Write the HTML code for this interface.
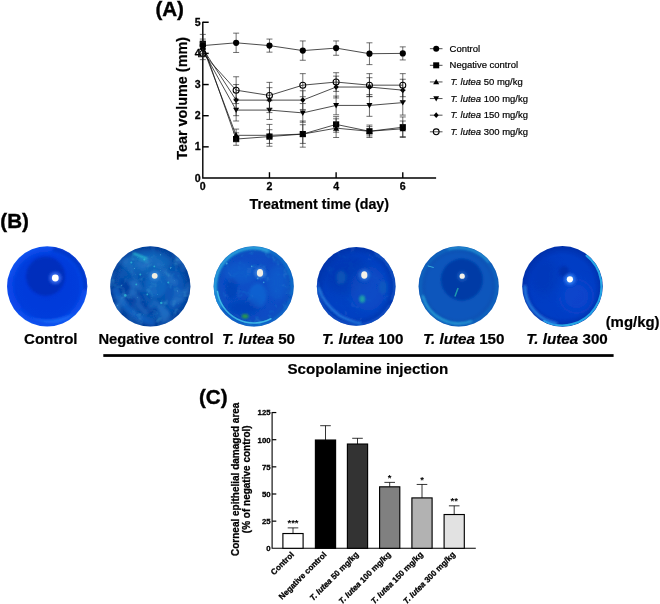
<!DOCTYPE html>
<html lang="en"><head><meta charset="utf-8"><title>Figure</title>
<style>html,body{margin:0;padding:0;background:#fff}body{width:660px;height:604px;overflow:hidden}svg{display:block}svg text{font-family:"Liberation Sans", sans-serif;fill:#000}.st{stroke:#000;stroke-width:0.2px}.sb{stroke:#000;stroke-width:0.28px}.sl{stroke:#000;stroke-width:0.4px}</style>
</head><body>
<svg width="660" height="604" viewBox="0 0 660 604">
<rect width="660" height="604" fill="#fff"/>
<g id="panelA">
<text x="155.4" y="15.7" font-size="20.6" font-weight="bold" class="sl">(A)</text>
<path d="M202.8 21.65 V178.0 H436.11" fill="none" stroke="#000" stroke-width="1.4"/>
<path d="M202.8 146.85 h5.9" stroke="#000" stroke-width="1.45"/>
<path d="M202.8 115.70 h5.9" stroke="#000" stroke-width="1.45"/>
<path d="M202.8 84.55 h5.9" stroke="#000" stroke-width="1.45"/>
<path d="M202.8 53.40 h5.9" stroke="#000" stroke-width="1.45"/>
<path d="M202.8 22.25 h5.9" stroke="#000" stroke-width="1.45"/>
<path d="M269.46 178.0 v-5.8" stroke="#000" stroke-width="1.4"/>
<path d="M336.12 178.0 v-5.8" stroke="#000" stroke-width="1.4"/>
<path d="M402.78 178.0 v-5.8" stroke="#000" stroke-width="1.4"/>
<text x="200.6" y="181.60" font-size="10.6" font-weight="bold" text-anchor="end" class="sb">0</text>
<text x="200.6" y="150.45" font-size="10.6" font-weight="bold" text-anchor="end" class="sb">1</text>
<text x="200.6" y="119.30" font-size="10.6" font-weight="bold" text-anchor="end" class="sb">2</text>
<text x="200.6" y="88.15" font-size="10.6" font-weight="bold" text-anchor="end" class="sb">3</text>
<text x="200.6" y="57.00" font-size="10.6" font-weight="bold" text-anchor="end" class="sb">4</text>
<text x="200.6" y="25.85" font-size="10.6" font-weight="bold" text-anchor="end" class="sb">5</text>
<text x="202.80" y="189.7" font-size="10.6" font-weight="bold" text-anchor="middle" class="sb">0</text>
<text x="269.46" y="189.7" font-size="10.6" font-weight="bold" text-anchor="middle" class="sb">2</text>
<text x="336.12" y="189.7" font-size="10.6" font-weight="bold" text-anchor="middle" class="sb">4</text>
<text x="402.78" y="189.7" font-size="10.6" font-weight="bold" text-anchor="middle" class="sb">6</text>
<text transform="translate(187.0,98.4) rotate(-90)" font-size="14.4" font-weight="bold" text-anchor="middle" class="st">Tear volume (mm)</text>
<text x="319.3" y="209.2" font-size="14.25" font-weight="bold" text-anchor="middle" class="st">Treatment time (day)</text>
<path d="M202.80 39.07 V49.04 M199.80 39.07 h6 M199.80 49.04 h6 M236.13 132.83 V145.29 M233.13 132.83 h6 M233.13 145.29 h6 M269.46 129.72 V143.42 M266.46 129.72 h6 M266.46 143.42 h6 M302.79 121.00 V147.16 M299.79 121.00 h6 M299.79 147.16 h6 M336.12 116.63 V132.21 M333.12 116.63 h6 M333.12 132.21 h6 M369.45 125.05 V137.50 M366.45 125.05 h6 M366.45 137.50 h6 M402.78 116.95 V137.51 M399.78 116.95 h6 M399.78 137.51 h6" stroke="#222" stroke-width="0.65" fill="none"/>
<polyline points="202.80,44.06 236.13,139.06 269.46,136.57 302.79,134.08 336.12,124.42 369.45,131.28 402.78,127.23" fill="none" stroke="#111" stroke-width="0.75"/>
<rect x="199.70" y="40.96" width="6.20" height="6.20" fill="#000"/>
<rect x="233.03" y="135.96" width="6.20" height="6.20" fill="#000"/>
<rect x="266.36" y="133.47" width="6.20" height="6.20" fill="#000"/>
<rect x="299.69" y="130.98" width="6.20" height="6.20" fill="#000"/>
<rect x="333.02" y="121.32" width="6.20" height="6.20" fill="#000"/>
<rect x="366.35" y="128.18" width="6.20" height="6.20" fill="#000"/>
<rect x="399.68" y="124.13" width="6.20" height="6.20" fill="#000"/>
<path d="M202.80 40.94 V53.40 M199.80 40.94 h6 M199.80 53.40 h6 M236.13 129.09 V141.55 M233.13 129.09 h6 M233.13 141.55 h6 M269.46 124.42 V146.23 M266.46 124.42 h6 M266.46 146.23 h6 M302.79 124.73 V143.42 M299.79 124.73 h6 M299.79 143.42 h6 M336.12 118.81 V137.50 M333.12 118.81 h6 M333.12 137.50 h6 M369.45 126.60 V135.95 M366.45 126.60 h6 M366.45 135.95 h6 M402.78 121.00 V136.57 M399.78 121.00 h6 M399.78 136.57 h6" stroke="#222" stroke-width="0.65" fill="none"/>
<polyline points="202.80,47.17 236.13,135.32 269.46,135.32 302.79,134.08 336.12,128.16 369.45,131.28 402.78,128.78" fill="none" stroke="#111" stroke-width="0.75"/>
<path d="M202.80 44.07 L205.90 49.65 L199.70 49.65 Z" fill="#000"/>
<path d="M236.13 132.22 L239.23 137.80 L233.03 137.80 Z" fill="#000"/>
<path d="M269.46 132.22 L272.56 137.80 L266.36 137.80 Z" fill="#000"/>
<path d="M302.79 130.98 L305.89 136.56 L299.69 136.56 Z" fill="#000"/>
<path d="M336.12 125.06 L339.22 130.64 L333.02 130.64 Z" fill="#000"/>
<path d="M369.45 128.18 L372.55 133.75 L366.35 133.75 Z" fill="#000"/>
<path d="M402.78 125.68 L405.88 131.26 L399.68 131.26 Z" fill="#000"/>
<path d="M202.80 44.06 V56.52 M199.80 44.06 h6 M199.80 56.52 h6 M236.13 99.19 V121.00 M233.13 99.19 h6 M233.13 121.00 h6 M269.46 100.75 V119.44 M266.46 100.75 h6 M266.46 119.44 h6 M302.79 103.55 V122.24 M299.79 103.55 h6 M299.79 122.24 h6 M336.12 96.08 V114.77 M333.12 96.08 h6 M333.12 114.77 h6 M369.45 94.52 V116.32 M366.45 94.52 h6 M366.45 116.32 h6 M402.78 90.16 V115.08 M399.78 90.16 h6 M399.78 115.08 h6" stroke="#222" stroke-width="0.65" fill="none"/>
<polyline points="202.80,50.29 236.13,110.09 269.46,110.09 302.79,112.90 336.12,105.42 369.45,105.42 402.78,102.62" fill="none" stroke="#111" stroke-width="0.75"/>
<path d="M202.80 53.29 L205.80 47.89 L199.80 47.89 Z" fill="#000"/>
<path d="M236.13 113.09 L239.13 107.69 L233.13 107.69 Z" fill="#000"/>
<path d="M269.46 113.09 L272.46 107.69 L266.46 107.69 Z" fill="#000"/>
<path d="M302.79 115.90 L305.79 110.50 L299.79 110.50 Z" fill="#000"/>
<path d="M336.12 108.42 L339.12 103.02 L333.12 103.02 Z" fill="#000"/>
<path d="M369.45 108.42 L372.45 103.02 L366.45 103.02 Z" fill="#000"/>
<path d="M402.78 105.62 L405.78 100.22 L399.78 100.22 Z" fill="#000"/>
<path d="M202.80 42.50 V54.96 M199.80 42.50 h6 M199.80 54.96 h6 M236.13 84.55 V115.70 M233.13 84.55 h6 M233.13 115.70 h6 M269.46 87.66 V112.59 M266.46 87.66 h6 M266.46 112.59 h6 M302.79 90.78 V109.47 M299.79 90.78 h6 M299.79 109.47 h6 M336.12 76.14 V97.94 M333.12 76.14 h6 M333.12 97.94 h6 M369.45 77.70 V96.39 M366.45 77.70 h6 M366.45 96.39 h6 M402.78 79.25 V101.06 M399.78 79.25 h6 M399.78 101.06 h6" stroke="#222" stroke-width="0.65" fill="none"/>
<polyline points="202.80,48.73 236.13,100.12 269.46,100.12 302.79,100.12 336.12,87.04 369.45,87.04 402.78,90.16" fill="none" stroke="#111" stroke-width="0.75"/>
<path d="M202.80 45.73 L205.35 48.73 L202.80 51.73 L200.25 48.73 Z" fill="#000"/>
<path d="M236.13 97.12 L238.68 100.12 L236.13 103.12 L233.58 100.12 Z" fill="#000"/>
<path d="M269.46 97.12 L272.01 100.12 L269.46 103.12 L266.91 100.12 Z" fill="#000"/>
<path d="M302.79 97.12 L305.34 100.12 L302.79 103.12 L300.24 100.12 Z" fill="#000"/>
<path d="M336.12 84.04 L338.67 87.04 L336.12 90.04 L333.57 87.04 Z" fill="#000"/>
<path d="M369.45 84.04 L372.00 87.04 L369.45 90.04 L366.90 87.04 Z" fill="#000"/>
<path d="M402.78 87.16 L405.33 90.16 L402.78 93.16 L400.23 90.16 Z" fill="#000"/>
<path d="M202.80 47.17 V59.63 M199.80 47.17 h6 M199.80 59.63 h6 M236.13 76.76 V103.55 M233.13 76.76 h6 M233.13 103.55 h6 M269.46 82.37 V108.54 M266.46 82.37 h6 M266.46 108.54 h6 M302.79 73.65 V96.70 M299.79 73.65 h6 M299.79 96.70 h6 M336.12 72.71 V91.40 M333.12 72.71 h6 M333.12 91.40 h6 M369.45 73.65 V96.70 M366.45 73.65 h6 M366.45 96.70 h6 M402.78 73.65 V96.70 M399.78 73.65 h6 M399.78 96.70 h6" stroke="#222" stroke-width="0.65" fill="none"/>
<polyline points="202.80,53.40 236.13,90.16 269.46,95.45 302.79,85.17 336.12,82.06 369.45,85.17 402.78,85.17" fill="none" stroke="#111" stroke-width="0.75"/>
<circle cx="202.80" cy="53.40" r="3.00" fill="none" stroke="#000" stroke-width="1.05"/>
<circle cx="236.13" cy="90.16" r="3.00" fill="none" stroke="#000" stroke-width="1.05"/>
<circle cx="269.46" cy="95.45" r="3.00" fill="none" stroke="#000" stroke-width="1.05"/>
<circle cx="302.79" cy="85.17" r="3.00" fill="none" stroke="#000" stroke-width="1.05"/>
<circle cx="336.12" cy="82.06" r="3.00" fill="none" stroke="#000" stroke-width="1.05"/>
<circle cx="369.45" cy="85.17" r="3.00" fill="none" stroke="#000" stroke-width="1.05"/>
<circle cx="402.78" cy="85.17" r="3.00" fill="none" stroke="#000" stroke-width="1.05"/>
<path d="M202.80 34.40 V56.83 M199.80 34.40 h6 M199.80 56.83 h6 M236.13 33.15 V52.47 M233.13 33.15 h6 M233.13 52.47 h6 M269.46 39.07 V52.15 M266.46 39.07 h6 M266.46 52.15 h6 M302.79 40.94 V60.25 M299.79 40.94 h6 M299.79 60.25 h6 M336.12 40.94 V55.27 M333.12 40.94 h6 M333.12 55.27 h6 M369.45 42.81 V64.61 M366.45 42.81 h6 M366.45 64.61 h6 M402.78 46.86 V59.94 M399.78 46.86 h6 M399.78 59.94 h6" stroke="#222" stroke-width="0.65" fill="none"/>
<polyline points="202.80,45.61 236.13,42.81 269.46,45.61 302.79,50.60 336.12,48.10 369.45,53.71 402.78,53.40" fill="none" stroke="#111" stroke-width="0.75"/>
<circle cx="202.80" cy="45.61" r="3.10" fill="#000"/>
<circle cx="236.13" cy="42.81" r="3.10" fill="#000"/>
<circle cx="269.46" cy="45.61" r="3.10" fill="#000"/>
<circle cx="302.79" cy="50.60" r="3.10" fill="#000"/>
<circle cx="336.12" cy="48.10" r="3.10" fill="#000"/>
<circle cx="369.45" cy="53.71" r="3.10" fill="#000"/>
<circle cx="402.78" cy="53.40" r="3.10" fill="#000"/>
<path d="M429.90 48.70 h12.6" stroke="#222" stroke-width="0.8"/>
<circle cx="436.20" cy="48.70" r="3.01" fill="#000"/>
<text x="449.6" y="51.75" font-size="9.47" class="st">Control</text>
<path d="M429.90 65.32 h12.6" stroke="#222" stroke-width="0.8"/>
<rect x="433.19" y="62.31" width="6.01" height="6.01" fill="#000"/>
<text x="449.6" y="68.37" font-size="9.47" class="st">Negative control</text>
<path d="M429.90 81.94 h12.6" stroke="#222" stroke-width="0.8"/>
<path d="M436.20 78.93 L439.21 84.35 L433.19 84.35 Z" fill="#000"/>
<text x="450.4" y="84.99" font-size="9.47" class="st"><tspan font-style="italic">T. lutea</tspan> 50 mg/kg</text>
<path d="M429.90 98.56 h12.6" stroke="#222" stroke-width="0.8"/>
<path d="M436.20 101.47 L439.11 96.23 L433.29 96.23 Z" fill="#000"/>
<text x="450.4" y="101.61" font-size="9.47" class="st"><tspan font-style="italic">T. lutea</tspan> 100 mg/kg</text>
<path d="M429.90 115.18 h12.6" stroke="#222" stroke-width="0.8"/>
<path d="M436.20 112.27 L438.67 115.18 L436.20 118.09 L433.73 115.18 Z" fill="#000"/>
<text x="450.4" y="118.23" font-size="9.47" class="st"><tspan font-style="italic">T. lutea</tspan> 150 mg/kg</text>
<path d="M429.90 131.80 h12.6" stroke="#222" stroke-width="0.8"/>
<circle cx="436.20" cy="131.80" r="2.91" fill="none" stroke="#000" stroke-width="1.05"/>
<text x="450.4" y="134.85" font-size="9.47" class="st"><tspan font-style="italic">T. lutea</tspan> 300 mg/kg</text>
</g>
<g id="panelB">
<text x="0.3" y="228.2" font-size="20.6" font-weight="bold" class="sl">(B)</text>
<defs>
<filter id="b0" x="-10%" y="-10%" width="120%" height="120%"><feGaussianBlur stdDeviation="0.75"/></filter>
<filter id="b1" x="-30%" y="-30%" width="160%" height="160%"><feGaussianBlur stdDeviation="0.8"/></filter>
<filter id="b2" x="-40%" y="-40%" width="180%" height="180%"><feGaussianBlur stdDeviation="1.7"/></filter>
<filter id="b3" x="-50%" y="-50%" width="200%" height="200%"><feGaussianBlur stdDeviation="3.2"/></filter>
<filter id="b4" x="-50%" y="-50%" width="200%" height="200%"><feGaussianBlur stdDeviation="5"/></filter>
<filter id="txL" x="0" y="0" width="100%" height="100%"><feTurbulence type="fractalNoise" baseFrequency="0.11" numOctaves="3" seed="7"/><feColorMatrix type="matrix" values="0 0 0 0 0.13  0 0 0 0 0.62  0 0 0 0 0.80  2.6 0 0 0 -1.5"/><feGaussianBlur stdDeviation="0.5"/></filter>
<filter id="txD" x="0" y="0" width="100%" height="100%"><feTurbulence type="fractalNoise" baseFrequency="0.07" numOctaves="2" seed="12"/><feColorMatrix type="matrix" values="0 0 0 0 0.02  0 0 0 0 0.17  0 0 0 0 0.56  0 4.0 0 0 -1.9"/><feGaussianBlur stdDeviation="0.8"/></filter>
<filter id="txS" x="0" y="0" width="100%" height="100%"><feTurbulence type="fractalNoise" baseFrequency="0.3" numOctaves="2" seed="3"/><feColorMatrix type="matrix" values="0 0 0 0 0.2  0 0 0 0 0.80  0 0 0 0 0.86  0 0 7 0 -5.3"/><feGaussianBlur stdDeviation="0.45"/></filter>
<radialGradient id="eg0" cx="50%" cy="50%" r="50%"><stop offset="0" stop-color="#0038d8"/><stop offset="0.78" stop-color="#003cdc"/><stop offset="1" stop-color="#1054f2"/></radialGradient>
<clipPath id="ec0"><circle cx="47.2" cy="286.4" r="40.1"/></clipPath>
<radialGradient id="eg1" cx="50%" cy="50%" r="50%"><stop offset="0" stop-color="#0856b2"/><stop offset="0.78" stop-color="#0854b0"/><stop offset="1" stop-color="#073e98"/></radialGradient>
<clipPath id="ec1"><circle cx="150.3" cy="286.4" r="40.1"/></clipPath>
<radialGradient id="eg2" cx="50%" cy="50%" r="50%"><stop offset="0" stop-color="#0a50c8"/><stop offset="0.78" stop-color="#084cc4"/><stop offset="1" stop-color="#0a54bc"/></radialGradient>
<clipPath id="ec2"><circle cx="253.7" cy="286.4" r="40.1"/></clipPath>
<radialGradient id="eg3" cx="50%" cy="50%" r="50%"><stop offset="0" stop-color="#0648c8"/><stop offset="0.78" stop-color="#0440c2"/><stop offset="1" stop-color="#0434aa"/></radialGradient>
<clipPath id="ec3"><circle cx="356.2" cy="286.4" r="39.4"/></clipPath>
<radialGradient id="eg4" cx="50%" cy="50%" r="50%"><stop offset="0" stop-color="#0956bc"/><stop offset="0.78" stop-color="#0956bc"/><stop offset="1" stop-color="#0a4cae"/></radialGradient>
<clipPath id="ec4"><circle cx="458.7" cy="286.4" r="40.1"/></clipPath>
<radialGradient id="eg5" cx="50%" cy="50%" r="50%"><stop offset="0" stop-color="#0440c8"/><stop offset="0.78" stop-color="#043cc4"/><stop offset="1" stop-color="#0430aa"/></radialGradient>
<clipPath id="ec5"><circle cx="562.5" cy="286.4" r="40.3"/></clipPath>
</defs>
<g filter="url(#b0)">
<circle cx="47.2" cy="286.4" r="40.1" fill="url(#eg0)"/>
<g clip-path="url(#ec0)">
<circle cx="45.6" cy="276.2" r="19.5" fill="#0026a8" opacity="0.58" filter="url(#b1)"/>
<path d="M53.2 245.39999999999998 A41 41 0 0 1 88.2 290.4 L83.2 289.4 A36 36 0 0 0 52.2 251.39999999999998Z" fill="#0028b0" opacity="0.55" filter="url(#b2)"/>
<path d="M7.200000000000003 276.4 A41 41 0 0 0 17.200000000000003 313.4 L21.200000000000003 306.4 A34 34 0 0 1 13.200000000000003 277.4Z" fill="#0c40e8" opacity="0.5" filter="url(#b2)"/>
<path d="M16.200000000000003 310.4 Q39.2 327.4 74.2 313.4 Q55.2 334.4 16.200000000000003 310.4Z" fill="#1c70f8" opacity="0.75" filter="url(#b1)"/>
</g>
<circle cx="55.3" cy="278.0" r="6.12" fill="#4a80ff" opacity="0.7" filter="url(#b2)"/>
<ellipse cx="55.3" cy="278.0" rx="3.4" ry="3.40" fill="#ffffff" filter="url(#b0)"/>
</g>
<g filter="url(#b0)">
<circle cx="150.3" cy="286.4" r="40.1" fill="url(#eg1)"/>
<g clip-path="url(#ec1)">
<ellipse cx="146.3" cy="262.4" rx="24" ry="11" fill="#1474c4" opacity="0.55" filter="url(#b3)"/>
<path d="M120.30000000000001 278.4 Q138.3 284.4 144.3 300.4 Q146.3 310.4 158.3 308.4 L152.3 314.4 Q130.3 312.4 118.30000000000001 290.4Z" fill="#06349a" opacity="0.6" filter="url(#b2)"/>
<ellipse cx="156.3" cy="284.4" rx="11" ry="13" fill="#1470c8" opacity="0.6" filter="url(#b2)"/>
<ellipse cx="174.3" cy="290.4" rx="10" ry="20" fill="#0c5cc0" opacity="0.5" filter="url(#b3)"/>
<path d="M114.30000000000001 288.4 Q126.30000000000001 316.4 154.3 323.4" stroke="#1268cc" stroke-width="6" fill="none" opacity="0.55" filter="url(#b2)"/>
<rect x="109.30000000000001" y="245.39999999999998" width="82" height="82" filter="url(#txD)" opacity="0.8"/>
<rect x="109.30000000000001" y="245.39999999999998" width="82" height="82" filter="url(#txL)" opacity="0.36"/>
<rect x="116.30000000000001" y="248.39999999999998" width="62" height="66" filter="url(#txS)" opacity="0.5"/>
<path d="M133.3 253.39999999999998 l14 5.5" stroke="#30c8d8" stroke-width="1.9" opacity="0.95" filter="url(#b1)"/>
<path d="M138.3 258.4 l10 4" stroke="#28b0d0" stroke-width="1.4" opacity="0.7" filter="url(#b1)"/>
<circle cx="125.30000000000001" cy="295.4" r="1.3" fill="#30c4d8" opacity="0.7" filter="url(#b0)"/>
<circle cx="161.3" cy="302.9" r="1.2" fill="#30c4d8" opacity="0.7" filter="url(#b0)"/>
<circle cx="131.3" cy="262.4" r="1.0" fill="#30c4d8" opacity="0.7" filter="url(#b0)"/>
<circle cx="144.3" cy="259.4" r="1.0" fill="#30c4d8" opacity="0.7" filter="url(#b0)"/>
<circle cx="168.3" cy="282.4" r="1.0" fill="#30c4d8" opacity="0.7" filter="url(#b0)"/>
<circle cx="140.3" cy="274.4" r="1.0" fill="#30c4d8" opacity="0.7" filter="url(#b0)"/>
<circle cx="147.3" cy="294.4" r="0.9" fill="#30c4d8" opacity="0.7" filter="url(#b0)"/>
<circle cx="136.3" cy="284.4" r="0.9" fill="#30c4d8" opacity="0.7" filter="url(#b0)"/>
<circle cx="154.3" cy="266.4" r="0.9" fill="#30c4d8" opacity="0.7" filter="url(#b0)"/>
</g>
<circle cx="154.7" cy="275.8" r="5.22" fill="#3a88d8" opacity="0.7" filter="url(#b2)"/>
<ellipse cx="154.7" cy="275.8" rx="2.9" ry="2.90" fill="#f2efe0" filter="url(#b0)"/>
</g>
<g filter="url(#b0)">
<circle cx="253.7" cy="286.4" r="40.1" fill="url(#eg2)"/>
<g clip-path="url(#ec2)">
<rect x="212.7" y="245.39999999999998" width="82" height="82" filter="url(#txL)" opacity="0.3"/>
<path d="M220.27 305.70 A38.6 38.6 0 0 1 268.16 250.61" stroke="#30b0e2" stroke-width="3.4" fill="none" opacity="0.85" stroke-linecap="round" filter="url(#b1)"/>
<path d="M268.16 250.61 A38.6 38.6 0 0 1 291.46 294.43" stroke="#1c84d4" stroke-width="3.0" fill="none" opacity="0.6" stroke-linecap="round" filter="url(#b1)"/>
<path d="M290.35 299.74 A39.0 39.0 0 0 1 215.29 293.17" stroke="#1674d2" stroke-width="2.6" fill="none" opacity="0.65" stroke-linecap="round" filter="url(#b1)"/>
<path d="M270.88 318.72 A36.6 36.6 0 0 1 217.46 291.49" stroke="#46c8ec" stroke-width="1.5" fill="none" opacity="0.85" stroke-linecap="round" filter="url(#b0)"/>
<ellipse cx="257.7" cy="295.4" rx="9" ry="12" fill="#1870d8" opacity="0.55" filter="url(#b2)"/>
<ellipse cx="239.7" cy="272.4" rx="15" ry="10" fill="#1268d0" opacity="0.5" filter="url(#b3)"/>
<ellipse cx="277.7" cy="282.4" rx="9" ry="17" fill="#1468d0" opacity="0.5" filter="url(#b3)"/>
<ellipse cx="243.7" cy="307.4" rx="16" ry="8" fill="#0636a8" opacity="0.4" filter="url(#b3)"/>
<ellipse cx="231.7" cy="288.4" rx="6" ry="10" fill="#0634a4" opacity="0.35" filter="url(#b2)"/>
<circle cx="226.7" cy="263.4" r="1.0" fill="#58c8e8" opacity="0.6" filter="url(#b0)"/>
<circle cx="257.7" cy="278.4" r="0.9" fill="#58c8e8" opacity="0.6" filter="url(#b0)"/>
<circle cx="263.7" cy="282.4" r="0.8" fill="#58c8e8" opacity="0.6" filter="url(#b0)"/>
<circle cx="251.7" cy="266.4" r="0.8" fill="#58c8e8" opacity="0.6" filter="url(#b0)"/>
<ellipse cx="245.1" cy="316.29999999999995" rx="3.4" ry="2.3" fill="#2a9650" filter="url(#b1)"/>
</g>
<circle cx="260.0" cy="272.9" r="5.58" fill="#4a90e0" opacity="0.7" filter="url(#b2)"/>
<ellipse cx="260.0" cy="272.9" rx="3.1" ry="3.78" fill="#f2efe6" filter="url(#b0)"/>
</g>
<g filter="url(#b0)">
<circle cx="356.2" cy="286.4" r="39.4" fill="url(#eg3)"/>
<g clip-path="url(#ec3)">
<rect x="315.2" y="245.39999999999998" width="82" height="82" filter="url(#txL)" opacity="0.14"/>
<ellipse cx="346.2" cy="274.4" rx="24" ry="20" fill="#0430a8" opacity="0.5" filter="url(#b4)"/>
<ellipse cx="368.2" cy="288.4" rx="18" ry="22" fill="#0a54c8" opacity="0.5" filter="url(#b4)"/>
<ellipse cx="341.2" cy="277.4" rx="5" ry="7" fill="#1678b8" opacity="0.4" filter="url(#b2)"/>
<ellipse cx="383.2" cy="287.4" rx="4" ry="7" fill="#1678b8" opacity="0.35" filter="url(#b2)"/>
<ellipse cx="362.2" cy="299.0" rx="3.0" ry="3.8" fill="#22a0a8" opacity="0.95" filter="url(#b1)"/>
<path d="M389.63 305.70 A38.6 38.6 0 0 1 317.75 283.04" stroke="#125cd0" stroke-width="2.8" fill="none" opacity="0.7" stroke-linecap="round" filter="url(#b1)"/>
<path d="M318.59999999999997 287.4 Q323.2 303.4 339.2 315.4 Q350.2 321.4 361.2 323.4" stroke="#3090ea" stroke-width="2.3" fill="none" opacity="0.8" filter="url(#b1)"/>
<path d="M375.40 253.14 A38.4 38.4 0 0 1 392.28 299.53" stroke="#1870d8" stroke-width="2.4" fill="none" opacity="0.55" stroke-linecap="round" filter="url(#b1)"/>
</g>
<circle cx="364.3" cy="275.0" r="5.58" fill="#3a80e0" opacity="0.7" filter="url(#b2)"/>
<ellipse cx="364.3" cy="275.0" rx="3.1" ry="3.78" fill="#f4f2e8" filter="url(#b0)"/>
</g>
<g filter="url(#b0)">
<circle cx="458.7" cy="286.4" r="40.1" fill="url(#eg4)"/>
<g clip-path="url(#ec4)">
<circle cx="458.7" cy="286.4" r="38.5" fill="none" stroke="#1a80d0" stroke-width="3.2" opacity="0.5" filter="url(#b2)"/>
<circle cx="461.9" cy="279.59999999999997" r="20.8" fill="#0636a0" opacity="0.8" filter="url(#b1)"/>
<path d="M458.09999999999997 287.9 l-3.2 8.5" stroke="#24a4b0" stroke-width="1.5" opacity="0.9" filter="url(#b0)"/>
<path d="M471.35 321.17 A37.0 37.0 0 0 1 422.96 295.98" stroke="#38c0e6" stroke-width="2.0" fill="none" opacity="0.75" stroke-linecap="round" filter="url(#b1)"/>
<path d="M427.7 265.9 l6 1.6" stroke="#48c8e4" stroke-width="1" opacity="0.8" filter="url(#b0)"/>
<path d="M448.66 248.92 A38.8 38.8 0 0 1 488.42 261.46" stroke="#2ca4dc" stroke-width="2.2" fill="none" opacity="0.7" stroke-linecap="round" filter="url(#b1)"/>
</g>
<circle cx="462.2" cy="276.2" r="4.68" fill="#3a88e0" opacity="0.45" filter="url(#b2)"/>
<ellipse cx="462.2" cy="276.2" rx="2.6" ry="2.60" fill="#f4f2ea" filter="url(#b0)"/>
</g>
<g filter="url(#b0)">
<circle cx="562.5" cy="286.4" r="40.3" fill="url(#eg5)"/>
<g clip-path="url(#ec5)">
<ellipse cx="563.9" cy="271.4" rx="5" ry="5.5" fill="#042a9c" opacity="0.55" filter="url(#b2)"/>
<path d="M586.51 255.67 A39.0 39.0 0 0 1 544.19 320.83" stroke="#2cb4ec" stroke-width="2.1" fill="none" opacity="0.9" stroke-linecap="round" filter="url(#b0)"/>
<path d="M555.97 323.43 A37.6 37.6 0 0 1 524.90 286.40" stroke="#2c88e6" stroke-width="3.0" fill="none" opacity="0.85" stroke-linecap="round" filter="url(#b1)"/>
<ellipse cx="576.5" cy="296.4" rx="18" ry="18" fill="#0850d4" opacity="0.4" filter="url(#b4)"/>
<ellipse cx="544.5" cy="276.4" rx="14" ry="18" fill="#0430a8" opacity="0.35" filter="url(#b4)"/>
</g>
<circle cx="569.9" cy="279.3" r="5.58" fill="#3a90ff" opacity="0.7" filter="url(#b2)"/>
<ellipse cx="569.9" cy="279.3" rx="3.1" ry="3.10" fill="#ffffff" filter="url(#b0)"/>
</g>
<text x="50.8" y="343.6" font-size="15.05" font-weight="bold" text-anchor="middle" class="st">Control</text>
<text x="156.0" y="343.6" font-size="14.7" font-weight="bold" text-anchor="middle" class="st">Negative control</text>
<text x="258.5" y="343.6" font-size="15.2" font-weight="bold" text-anchor="middle" class="st"><tspan font-style="italic">T. lutea</tspan> 50</text>
<text x="362.7" y="343.6" font-size="15.2" font-weight="bold" text-anchor="middle" class="st"><tspan font-style="italic">T. lutea</tspan> 100</text>
<text x="463.7" y="343.6" font-size="15.2" font-weight="bold" text-anchor="middle" class="st"><tspan font-style="italic">T. lutea</tspan> 150</text>
<text x="567.0" y="343.6" font-size="15.2" font-weight="bold" text-anchor="middle" class="st"><tspan font-style="italic">T. lutea</tspan> 300</text>
<text x="632.6" y="327.4" font-size="14.95" font-weight="bold" text-anchor="middle" class="st">(mg/kg)</text>
<rect x="103.3" y="354.15" width="510.3" height="2.75" fill="#000"/>
<text x="367.8" y="374.3" font-size="15.15" font-weight="bold" text-anchor="middle" class="st">Scopolamine injection</text>
</g>
<g id="panelC">
<text x="199.0" y="404.4" font-size="20.6" font-weight="bold" class="sl">(C)</text>
<path d="M272.1 412.05 V548.3 H475.8" fill="none" stroke="#000" stroke-width="1.1"/>
<path d="M272.1 521.15 h4.2" stroke="#000" stroke-width="1.2"/>
<path d="M272.1 494.00 h4.2" stroke="#000" stroke-width="1.2"/>
<path d="M272.1 466.85 h4.2" stroke="#000" stroke-width="1.2"/>
<path d="M272.1 439.70 h4.2" stroke="#000" stroke-width="1.2"/>
<path d="M272.1 412.55 h4.2" stroke="#000" stroke-width="1.2"/>
<text x="270.6" y="551.10" font-size="7.8" font-weight="bold" text-anchor="end" class="sb">0</text>
<text x="270.6" y="523.95" font-size="7.8" font-weight="bold" text-anchor="end" class="sb">25</text>
<text x="270.6" y="496.80" font-size="7.8" font-weight="bold" text-anchor="end" class="sb">50</text>
<text x="270.6" y="469.65" font-size="7.8" font-weight="bold" text-anchor="end" class="sb">75</text>
<text x="270.6" y="442.50" font-size="7.8" font-weight="bold" text-anchor="end" class="sb">100</text>
<text x="270.6" y="415.35" font-size="7.8" font-weight="bold" text-anchor="end" class="sb">125</text>
<text transform="translate(238.9,479.3) rotate(-90)" font-size="10" font-weight="bold" text-anchor="middle" class="sb">Corneal epithelial damaged area</text>
<text transform="translate(250.4,479.3) rotate(-90)" font-size="10" font-weight="bold" text-anchor="middle" class="sb">(% of negative control)</text>
<path d="M293.0 533.53 V527.88 M287.7 527.88 h10.6" stroke="#000" stroke-width="0.8" fill="none"/>
<rect x="282.90" y="533.53" width="20.2" height="14.77" fill="#ffffff" stroke="#000" stroke-width="1.15"/>
<text x="293.0" y="526.28" font-size="9.5" font-weight="bold" text-anchor="middle">***</text>
<text transform="translate(294.5,555.1) rotate(-45)" font-size="8.12" font-weight="bold" text-anchor="end" class="sb">Control</text>
<path d="M325.5 440.03 V425.69 M320.2 425.69 h10.6" stroke="#000" stroke-width="0.8" fill="none"/>
<rect x="315.40" y="440.03" width="20.2" height="108.27" fill="#000000" stroke="#000" stroke-width="1.15"/>
<text transform="translate(327.0,555.1) rotate(-45)" font-size="8.12" font-weight="bold" text-anchor="end" class="sb">Negative control</text>
<path d="M357.5 444.04 V438.29 M352.2 438.29 h10.6" stroke="#000" stroke-width="0.8" fill="none"/>
<rect x="347.40" y="444.04" width="20.2" height="104.26" fill="#333333" stroke="#000" stroke-width="1.15"/>
<text transform="translate(359.0,555.1) rotate(-45)" font-size="8.12" font-weight="bold" text-anchor="end" class="sb"><tspan font-style="italic">T. lutea</tspan> 50 mg/kg</text>
<path d="M389.7 486.83 V482.38 M384.4 482.38 h10.6" stroke="#000" stroke-width="0.8" fill="none"/>
<rect x="379.60" y="486.83" width="20.2" height="61.47" fill="#808080" stroke="#000" stroke-width="1.15"/>
<text x="389.7" y="480.78" font-size="9.5" font-weight="bold" text-anchor="middle">*</text>
<text transform="translate(391.2,555.1) rotate(-45)" font-size="8.12" font-weight="bold" text-anchor="end" class="sb"><tspan font-style="italic">T. lutea</tspan> 100 mg/kg</text>
<path d="M422.0 497.91 V484.44 M416.7 484.44 h10.6" stroke="#000" stroke-width="0.8" fill="none"/>
<rect x="411.90" y="497.91" width="20.2" height="50.39" fill="#b2b2b2" stroke="#000" stroke-width="1.15"/>
<text x="422.0" y="482.84" font-size="9.5" font-weight="bold" text-anchor="middle">*</text>
<text transform="translate(423.5,555.1) rotate(-45)" font-size="8.12" font-weight="bold" text-anchor="end" class="sb"><tspan font-style="italic">T. lutea</tspan> 150 mg/kg</text>
<path d="M454.2 514.53 V505.84 M448.9 505.84 h10.6" stroke="#000" stroke-width="0.8" fill="none"/>
<rect x="444.10" y="514.53" width="20.2" height="33.77" fill="#e2e2e2" stroke="#000" stroke-width="1.15"/>
<text x="454.2" y="504.24" font-size="9.5" font-weight="bold" text-anchor="middle">**</text>
<text transform="translate(455.7,555.1) rotate(-45)" font-size="8.12" font-weight="bold" text-anchor="end" class="sb"><tspan font-style="italic">T. lutea</tspan> 300 mg/kg</text>
</g>
</svg></body></html>
